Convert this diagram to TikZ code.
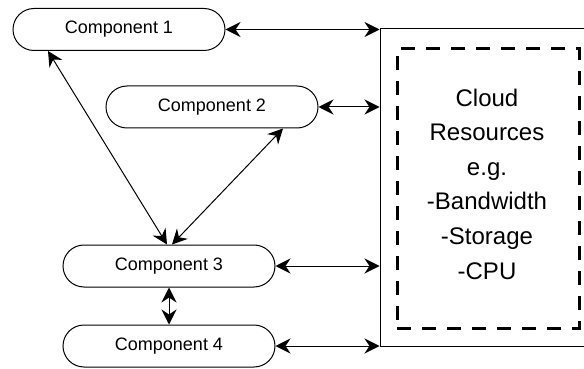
\documentclass[tikz,border=0pt]{standalone}
\usepackage{fontspec}
\setmainfont{Liberation Sans}
\usetikzlibrary{arrows.meta}

\begin{document}
\begin{tikzpicture}[x=0.5pt,y=-0.5pt,
      compblock/.style={draw,line width=0.5pt,rectangle,rounded corners=10.5pt,
        minimum height=21pt,minimum width=106pt,inner sep=0pt,font=\fontsize{9}{11}\selectfont},
      link/.style={{Stealth[length=7.5pt,width=7.5pt,inset=2.5pt]}-{Stealth[length=7.5pt,width=7.5pt,inset=2.5pt]},line width=0.5pt}]
    \useasboundingbox (0,0) rectangle (584,369);
    \clip (0,0) rectangle (584,369);
    % Blocks
    \node[compblock] (comp1) at (119,29.5) {Component 1};
    \node[compblock] (comp2) at (212,107)  {Component 2};
    \node[compblock] (comp3) at (169,266)  {Component 3};
    \node[compblock] (comp4) at (169,346)  {Component 4};
    \node[draw,line width=0.5pt,minimum width=120pt,minimum height=158.5pt,inner sep=0pt] (cloud) at (500,187.5) {};
    \node[draw,line width=1.5pt,dash pattern=on 7pt off 5.5pt,minimum width=91pt,minimum height=139.5pt,
      inner sep=0pt] (res) at (488,188.5) {};
    \node[align=center,font=\fontsize{12}{17.3}\selectfont] (restext) at (487,184)
      {Cloud\\Resources\\e.g.\\-Bandwidth\\-Storage\\-CPU};

    % Arrows
    \draw[link] (comp1.east) -- (comp1.east -| cloud.west);
    \draw[link] (comp2.east) -- (comp2.east -| cloud.west);
    \draw[link] (comp3.east) -- (comp3.east -| cloud.west);
    \draw[link] (comp4.east) -- (comp4.east -| cloud.west);
    \draw[link] ([xshift=-35.5pt]comp1.south) -- ([xshift=-1pt]comp3.north);
    \draw[link] ([xshift=35.5pt]comp2.south)  -- ([xshift=1.5pt]comp3.north);
    \draw[link] (comp3.south) -- (comp4.north);

  \end{tikzpicture}
\end{document}
